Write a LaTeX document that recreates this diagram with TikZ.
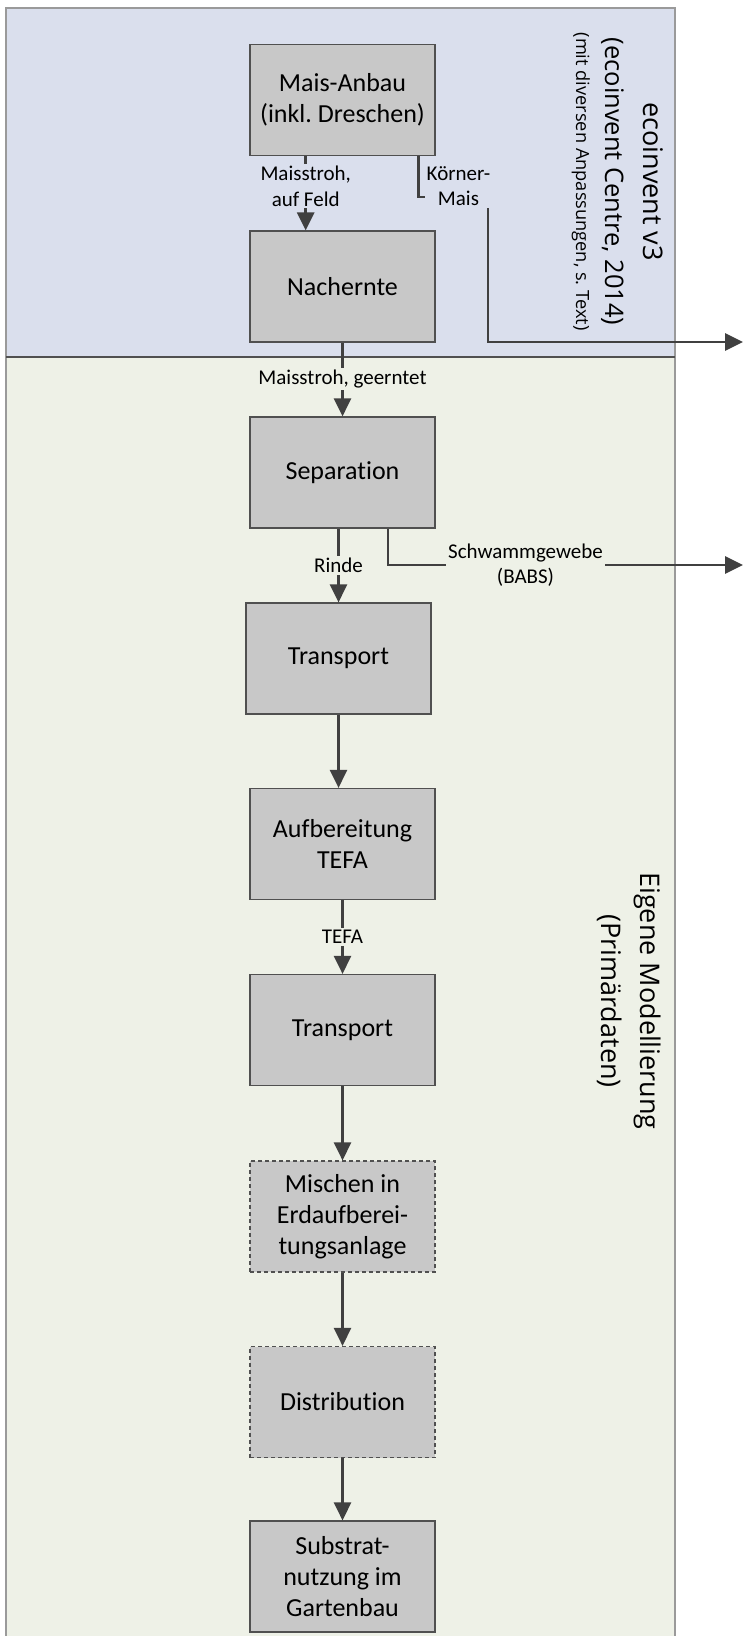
\documentclass[tikz,border=0pt]{standalone}
\usepackage{fontspec}
\setmainfont{Carlito}[Ligatures=NoCommon]
\newfontfamily\sidefont{Open Sans}
\usetikzlibrary{arrows.meta}
\definecolor{bluebg}{HTML}{DADFED}
\definecolor{greenbg}{HTML}{EEF1E7}
\definecolor{boxfill}{HTML}{C8C8C8}
\definecolor{boxline}{HTML}{505050}
\definecolor{flowc}{HTML}{404040}
\definecolor{panelline}{HTML}{9A9A9A}
\frenchspacing
\begin{document}
\begin{tikzpicture}[x=0.5pt,y=-0.5pt,
  procbox/.style={draw=boxline, line width=0.6pt, fill=boxfill, minimum width=92.5pt, minimum height=55.5pt, inner sep=0pt, align=center, font=\fontsize{13}{15.6}\selectfont},
  dashbox/.style={procbox, dash pattern=on 2pt off 1.5pt},
  flow/.style={draw=flowc, line width=1.4pt, -{Triangle[width=8.5pt,length=9pt]}},
  lab/.style={font=\fontsize{10.5}{12.6}\selectfont, align=center, inner sep=1pt},
  side/.style={rotate=-90, anchor=base, inner sep=0pt}
]
\useasboundingbox (0,0) rectangle (743,1636);
% panels
\fill[bluebg] (6,8) rectangle (675,357);
\fill[greenbg] (6,357) rectangle (675,1640);
\draw[panelline, line width=1pt] (6,1640) -- (6,8) -- (675,8) -- (675,1640);
\draw[boxline, line width=0.75pt] (6,357) -- (675,357);
% side texts
\node[side, font={\sidefont\fontsize{13.5}{16}\selectfont}] (s1) at (643,181.6) {ecoinvent v3};
\node[side, font={\sidefont\fontsize{12.75}{15}\selectfont}] (s2) at (605,181.6) {(ecoinvent Centre, 2014)};
\node[side, font={\sidefont\fontsize{9.1}{11}\selectfont}] (s3) at (576,181.6) {(mit diversen Anpassungen, s. Text)};
\node[side, font={\sidefont\fontsize{13.5}{16}\selectfont}] (e1) at (640,1001) {Eigene Modellierung};
\node[side, font={\sidefont\fontsize{13.5}{16}\selectfont}] (e2) at (601,1001) {(Primärdaten)};
% boxes
\node[procbox] (ma) at (342.5,100) {Mais-Anbau\\(inkl. Dreschen)};
\node[procbox] (na) at (342.5,286.5) {Nachernte};
\node[procbox] (sep) at (342.5,472.5) {Separation};
\node[procbox] (tr1) at (338.5,658.5) {Transport};
\node[procbox] (auf) at (342.5,844) {Aufbereitung\\TEFA};
\node[procbox] (tr2) at (342.5,1030) {Transport};
\node[dashbox] (mis) at (342.5,1216.5) {Mischen in\\Erdaufberei-\\tungsanlage};
\node[dashbox] (dis) at (342.5,1402) {Distribution};
\node[procbox] (sub) at (342.5,1576.5) {Substrat-\\nutzung im\\Gartenbau};
% helper coordinates
\coordinate (xa) at (305.7,0);
\coordinate (xk) at (418.7,0);
\coordinate (kbend) at (488,197);
\coordinate (kout) at (743,342);
\coordinate (xs) at (388,0);
\coordinate (sout) at (743,565);
% connectors
\draw[flow] (ma.south -| xa) -- node[lab, fill=bluebg, pos=0.407] {Maisstroh,\\auf Feld} (na.north -| xa);
\draw[flow] (ma.south -| xk) |- (kbend) |- (kout);
\node[lab, fill=bluebg] (kl) at (458.5,186) {Körner-\\Mais};
\draw[flow] (na.south) -- node[lab, fill=greenbg, pos=0.49] {Maisstroh, geerntet} (sep.north);
\draw[flow] (sep.south -| tr1.north) -- node[lab, fill=greenbg] {Rinde} (tr1.north);
\draw[flow] (sep.south -| xs) |- (sout);
\node[lab, fill=greenbg] (sl) at (525.5,565.5) {Schwammgewebe\\(BABS)};
\draw[flow] (tr1.south) -- (tr1.south |- auf.north);
\draw[flow] (auf.south) -- node[lab, fill=greenbg] {TEFA} (tr2.north);
\draw[flow] (tr2.south) -- (mis.north);
\draw[flow] (mis.south) -- (dis.north);
\draw[flow] (dis.south) -- (sub.north);
\end{tikzpicture}
\end{document}
